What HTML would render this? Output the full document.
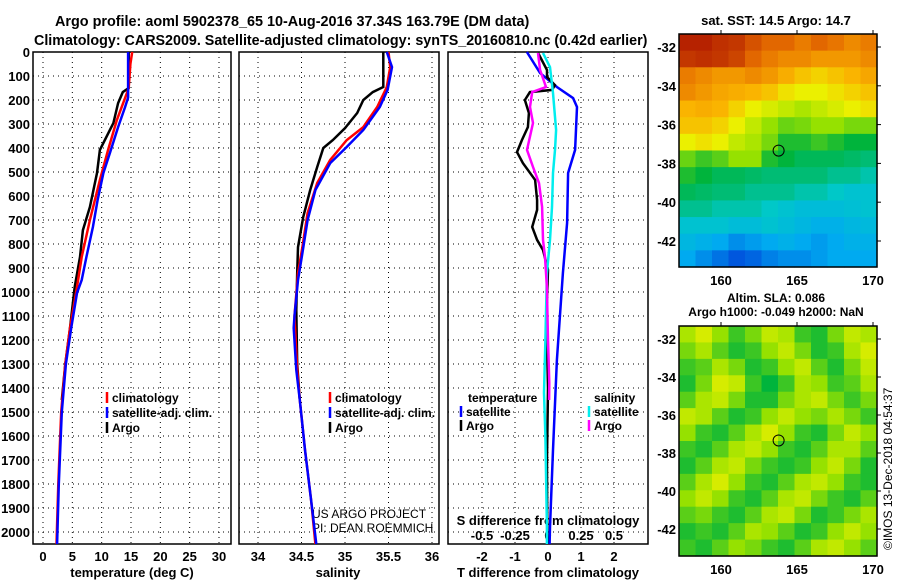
<!DOCTYPE html>
<html><head><meta charset="utf-8"><style>
html,body{margin:0;padding:0;background:#fff;}
svg{display:block;font-family:"Liberation Sans",sans-serif;}
.b{font-weight:bold;}
</style></head><body>
<svg id="chart" width="900" height="580" viewBox="0 0 900 580" xmlns="http://www.w3.org/2000/svg">
<text x="55" y="26" class="b" font-size="14.4">Argo profile: aoml 5902378_65 10-Aug-2016 37.34S 163.79E (DM data)</text>
<text x="34" y="45" class="b" font-size="14.3">Climatology: CARS2009. Satellite-adjusted climatology: synTS_20160810.nc (0.42d earlier)</text>
<g id="plots"></g>
</svg>
<script>
// ---------- data ----------
const depthTicks = [0,100,200,300,400,500,600,700,800,900,1000,1100,1200,1300,1400,1500,1600,1700,1800,1900,2000];
const tempTicks = [0,5,10,15,20,25,30];
const salTicks = [34,34.5,35,35.5,36];
const salTickLabels = ["34","34.5","35","35.5","36"];
const tdiffTicks = [-2,-1,0,1,2];
const sdiffTicks = [-0.5,-0.25,0,0.25,0.5];
const sdiffTickLabels = ["-0.5","-0.25","0","0.25","0.5"];

const tClimDepth = [0,50,150,171,283,408,533,700,854,979,1150,1300,1500,1800,2050];
const tClim      = [15.2,14.9,14.6,14.3,12.6,11.1,9.7,8.0,6.6,5.8,4.6,3.8,3.1,2.6,2.3];
const tSatDepth  = [0,190,229,313,421,504,617,729,854,950,1004,1150,1300,1500,1800,2050];
const tSat       = [14.5,14.5,14.0,12.8,11.4,10.3,9.3,8.5,7.4,6.6,5.8,4.8,3.9,3.2,2.7,2.4];
const tArgoDepth = [0,150,167,213,296,408,504,646,742,854,979,1150,1300,1450];
const tArgo      = [14.6,14.6,13.6,12.8,12.0,9.7,9.2,8.0,6.8,6.3,5.4,4.6,3.8,3.2];

const sClimDepth = [0,63,146,229,313,367,450,546,671,813,921,1100,1325,1450,1658,1867,2050];
const sClim      = [35.5,35.52,35.48,35.37,35.21,35.02,34.83,34.68,34.57,34.51,34.46,34.42,34.45,34.48,34.54,34.61,34.66];
const sSatDepth  = [0,63,158,229,325,396,463,575,700,838,950,1100,1150,1325,1450,1658,1867,2050];
const sSat       = [35.48,35.54,35.49,35.40,35.21,35.02,34.83,34.66,34.57,34.51,34.46,34.42,34.41,34.44,34.48,34.54,34.61,34.67];
const sArgoDepth = [0,146,167,200,254,317,367,400,479,575,688,813,921,1075,1300,1450];
const sArgo      = [35.44,35.44,35.32,35.21,35.14,35.0,34.86,34.75,34.68,34.60,34.52,34.46,34.45,34.44,34.45,34.48];

const dTsatDepth = [0,88,146,192,229,408,504,712,921,1283,1658,1979,2050];
const dTsat      = [-0.64,-0.24,0.27,0.76,0.88,0.82,0.61,0.58,0.45,0.27,0.15,0.06,0.05];
const dTargoDepth= [4,75,104,138,158,167,200,254,313,367,417,463,533,617,658,729,783,825,908,1100,1400,1700,2050];
const dTargo     = [-0.3,-0.03,-0.03,0.21,0.12,-0.55,-0.7,-0.58,-0.61,-0.79,-0.94,-0.76,-0.39,-0.33,-0.33,-0.48,-0.33,-0.15,0,-0.05,0,-0.03,-0.02];
const dSsatDepth = [4,63,171,325,408,504,646,783,921,1200,1420,1600,1979,2050];
const dSsat      = [-0.038,0.015,0.038,0.061,0.053,0.038,0.03,0.015,-0.008,-0.02,-0.03,-0.02,-0.008,-0.008];
const dSargoDepth= [4,75,146,167,229,296,408,479,546,646,783,854,979,1200,1380,1450];
const dSargo     = [-0.076,-0.06,-0.015,-0.12,-0.136,-0.114,-0.159,-0.114,-0.068,-0.045,-0.038,-0.023,-0.008,0,0.01,0.008];

const mapLonTicks = [160,165,170];
const mapLatTicks = [-32,-34,-36,-38,-40,-42];
const floatLon = 163.79, floatLat = -37.34;
const sstGrid = [
[.95,.95,.93,.92,.88,.85,.85,.82,.85,.83,.80,.82],
[.92,.93,.92,.90,.85,.82,.80,.80,.78,.78,.78,.80],
[.82,.80,.78,.78,.80,.78,.75,.72,.70,.72,.74,.76],
[.80,.78,.76,.75,.74,.72,.68,.66,.66,.68,.70,.72],
[.74,.75,.74,.70,.66,.64,.62,.60,.62,.64,.66,.68],
[.72,.72,.70,.66,.62,.58,.55,.56,.58,.58,.56,.56],
[.66,.68,.66,.62,.60,.56,.50,.50,.52,.50,.48,.48],
[.55,.52,.54,.58,.58,.50,.48,.46,.46,.46,.45,.44],
[.50,.48,.46,.46,.45,.44,.44,.44,.44,.42,.42,.40],
[.46,.45,.44,.44,.42,.42,.42,.40,.40,.38,.36,.36],
[.42,.42,.40,.40,.40,.38,.36,.34,.34,.34,.35,.36],
[.36,.36,.36,.34,.34,.36,.34,.32,.30,.30,.32,.33],
[.32,.30,.28,.24,.26,.28,.30,.28,.26,.28,.30,.30],
[.28,.24,.20,.16,.18,.22,.24,.24,.26,.28,.28,.28]];
const slaGrid = [
[.60,.64,.58,.52,.56,.62,.60,.52,.50,.56,.62,.60],
[.56,.60,.54,.50,.52,.58,.62,.56,.50,.52,.60,.64],
[.52,.54,.60,.56,.50,.52,.58,.62,.54,.50,.56,.62],
[.50,.56,.64,.62,.52,.48,.52,.60,.58,.52,.54,.60],
[.54,.60,.62,.56,.50,.50,.56,.60,.62,.56,.52,.56],
[.62,.60,.54,.50,.52,.58,.62,.58,.56,.60,.56,.52],
[.58,.52,.50,.54,.60,.64,.58,.52,.50,.56,.62,.58],
[.52,.50,.54,.60,.62,.58,.52,.50,.54,.60,.60,.54],
[.50,.54,.60,.62,.56,.52,.50,.52,.58,.62,.56,.50],
[.54,.60,.64,.58,.52,.50,.54,.60,.62,.58,.52,.50],
[.58,.62,.58,.52,.50,.54,.60,.62,.56,.52,.50,.54],
[.54,.56,.52,.50,.54,.60,.62,.56,.50,.52,.56,.60],
[.50,.52,.50,.54,.60,.58,.54,.50,.52,.58,.62,.58],
[.52,.50,.54,.58,.56,.52,.50,.54,.60,.62,.58,.54]];

// ---------- helpers ----------
const NS = "http://www.w3.org/2000/svg";
const root = document.getElementById("plots");
function el(tag, attrs, parent){
  const e = document.createElementNS(NS, tag);
  for (const k in attrs) e.setAttribute(k, attrs[k]);
  (parent||root).appendChild(e);
  return e;
}
const Y0 = 52, Y1 = 544;
const yD = d => Y0 + d*(Y1-Y0)/2050;
function xLin(v0, x0, v1, x1){ return v => x0 + (v-v0)*(x1-x0)/(v1-v0); }

const panels = [
  {name:"temperature-panel", x0:33, x1:231, fx:xLin(0,43,30,219)},
  {name:"salinity-panel", x0:239, x1:439, fx:xLin(34,258,36,432)},
  {name:"difference-panel", x0:448, x1:648, fx:xLin(0,548,2,614)}
];
const fxS = xLin(0,548,0.5,614);

panels.forEach((p,i)=>{
  const g = el("g",{});
  
  
  depthTicks.forEach(d=>{
    if(d===0) return;
    const l = el("line",{x1:p.x0,x2:p.x1,y1:yD(d),y2:yD(d),stroke:"#000","stroke-width":1,"stroke-dasharray":"1,4"},g);
    
    
  });
  const xt = i===0?tempTicks:(i===1?salTicks:tdiffTicks);
  const xf = i===2 ? (v=>fxS(v)) : p.fx;
  const gridVals = i===2?sdiffTicks:xt;
  gridVals.forEach(v=>{
    const x = xf(v);
    const l = el("line",{x1:x,x2:x,y1:Y0,y2:Y1,stroke:"#000","stroke-width":1,"stroke-dasharray":"1,4"},g);
    
    
  });
  const fr = el("rect",{x:p.x0,y:Y0,width:p.x1-p.x0,height:Y1-Y0,fill:"none",stroke:"#000","stroke-width":1.5},g);
  
  
  xt.forEach((v,j)=>{
    const lab = i===1?salTickLabels[j]:String(v);
    const t = el("text",{x:p.fx(v),y:561,"text-anchor":"middle","font-size":13,"font-weight":"bold"},g);
    t.textContent = lab;
    
    
  });
});
depthTicks.forEach(d=>{
  const t = el("text",{x:30,y:yD(d)+5,"text-anchor":"end","font-size":13,"font-weight":"bold"});
  t.textContent = String(d);
  
  
});
sdiffTicks.forEach((v,j)=>{
  const t = el("text",{x:fxS(v),y:540,"text-anchor":"middle","font-size":13,"font-weight":"bold"});
  t.textContent = sdiffTickLabels[j];
  
  
});
function txt(x,y,s,name,opts){
  const t = el("text",Object.assign({x:x,y:y,"font-size":13,"font-weight":"bold"},opts||{}));
  t.textContent = s;
  
  
  return t;
}
txt(132,577,"temperature (deg C)","x-axis-title-temperature",{"text-anchor":"middle"});
txt(338,577,"salinity","x-axis-title-salinity",{"text-anchor":"middle"});
txt(548,577,"T difference from climatology","x-axis-title-t-diff",{"text-anchor":"middle"});
txt(548,525,"S difference from climatology","s-diff-axis-title",{"text-anchor":"middle"});
txt(312,518,"US ARGO PROJECT","credit-project",{"font-weight":"normal","font-size":12});
txt(312,532,"PI: DEAN ROEMMICH","credit-pi",{"font-weight":"normal","font-size":12});

function line(xs, ds, fx, color, name){
  const pts = xs.map((v,k)=>fx(v).toFixed(1)+","+yD(ds[k]).toFixed(1)).join(" ");
  const pl = el("polyline",{points:pts,fill:"none",stroke:color,"stroke-width":2.5,"stroke-linejoin":"miter"});
  
  
}
const fT = panels[0].fx, fS = panels[1].fx, fdT = panels[2].fx;
line(tArgo,tArgoDepth,fT,"#000","temperature-argo-line");
line(tClim,tClimDepth,fT,"#f00","temperature-climatology-line");
line(tSat,tSatDepth,fT,"#00f","temperature-satellite-line");
line(sArgo,sArgoDepth,fS,"#000","salinity-argo-line");
line(sClim,sClimDepth,fS,"#f00","salinity-climatology-line");
line(sSat,sSatDepth,fS,"#00f","salinity-satellite-line");
line(dTsat,dTsatDepth,fdT,"#00f","t-diff-satellite-line");
line(dTargo,dTargoDepth,fdT,"#000","t-diff-argo-line");
line(dSsat,dSsatDepth,fxS,"#0ee","s-diff-satellite-line");
line(dSargo,dSargoDepth,fxS,"#f0f","s-diff-argo-line");

function legend(x,y,color,label,name){
  const m = el("line",{x1:x,x2:x,y1:y-10,y2:y+1,stroke:color,"stroke-width":2.5});
  
  
  txt(x+5,y,label,name,{"font-size":12});
}
legend(107,402,"#f00","climatology","legend-climatology");
legend(107,417,"#00f","satellite-adj. clim.","legend-satellite-adj");
legend(107,432,"#000","Argo","legend-argo");
legend(330,402,"#f00","climatology","legend-climatology-2");
legend(330,417,"#00f","satellite-adj. clim.","legend-satellite-adj-2");
legend(330,432,"#000","Argo","legend-argo-2");
txt(468,402,"temperature","legend-temperature-heading",{"font-size":12});
legend(461,416,"#00f","satellite","legend-t-satellite");
legend(461,430,"#000","Argo","legend-t-argo");
txt(594,402,"salinity","legend-salinity-heading",{"font-size":12});
legend(589,416,"#0ee","satellite","legend-s-satellite");
legend(589,430,"#f0f","Argo","legend-s-argo");

const stops = [[0,[0,0,140]],[.15,[0,80,220]],[.28,[0,170,240]],[.38,[0,200,200]],[.48,[0,180,60]],[.58,[150,225,0]],[.66,[235,240,0]],[.74,[250,180,0]],[.84,[230,110,0]],[1,[160,0,0]]];
function cmap(v){
  for(let k=1;k<stops.length;k++){
    if(v<=stops[k][0]){
      const a=stops[k-1],b=stops[k],t=(v-a[0])/(b[0]-a[0]);
      return "rgb("+a[1].map((c,n)=>Math.round(c+(b[1][n]-c)*t)).join(",")+")";
    }
  }
  return "rgb(160,0,0)";
}
function drawMap(grid, x0, y0, x1, y1, lat32y, lat42y, name){
  const g = el("g",{});
  
  
  const rows = grid.length, cols = grid[0].length;
  const cw=(x1-x0)/cols, ch=(y1-y0)/rows;
  grid.forEach((row,r)=>row.forEach((v,c)=>{
    const cell = el("rect",{x:(x0+c*cw).toFixed(2),y:(y0+r*ch).toFixed(2),width:(cw+0.6).toFixed(2),height:(ch+0.6).toFixed(2),fill:cmap(v)},g);
    
    
  }));
  const fx = xLin(160,721,170,873);
  const fy = xLin(-32,lat32y,-42,lat42y);
  const fr = el("rect",{x:x0,y:y0,width:x1-x0,height:y1-y0,fill:"none",stroke:"#000","stroke-width":1.5},g);
  
  
  mapLonTicks.forEach(v=>{
    const tk = el("line",{x1:fx(v),x2:fx(v),y1:y0-4,y2:y0,stroke:"#000"},g);
    
    
    const t = el("text",{x:fx(v),y:y1+18,"text-anchor":"middle","font-size":13,"font-weight":"bold"},g);
    t.textContent = String(v);
    
    
  });
  mapLatTicks.forEach(v=>{
    const tk = el("line",{x1:x1,x2:x1+4,y1:fy(v),y2:fy(v),stroke:"#000"},g);
    
    
    const t = el("text",{x:x0-3,y:fy(v)+5,"text-anchor":"end","font-size":13,"font-weight":"bold"},g);
    t.textContent = String(v);
    
    
  });
  const c = el("circle",{cx:fx(floatLon),cy:fy(floatLat),r:5.5,fill:"none",stroke:"#000","stroke-width":1},g);
  
  
}
drawMap(sstGrid,679,34,877,267,47,241,"sst-map");
drawMap(slaGrid,679,326,877,556,339,529,"sla-map");
txt(776,25,"sat. SST: 14.5 Argo: 14.7","sst-map-title",{"text-anchor":"middle"});
txt(776,302,"Altim. SLA: 0.086","sla-map-title",{"text-anchor":"middle","font-size":12});
txt(776,316,"Argo h1000: -0.049 h2000: NaN","sla-map-subtitle",{"text-anchor":"middle","font-size":12});
txt(0,0,"©IMOS 13-Dec-2018 04:54:37","imos-timestamp",{"font-weight":"normal","font-size":12,transform:"translate(892,550) rotate(-90)"});
</script>
</body></html>
